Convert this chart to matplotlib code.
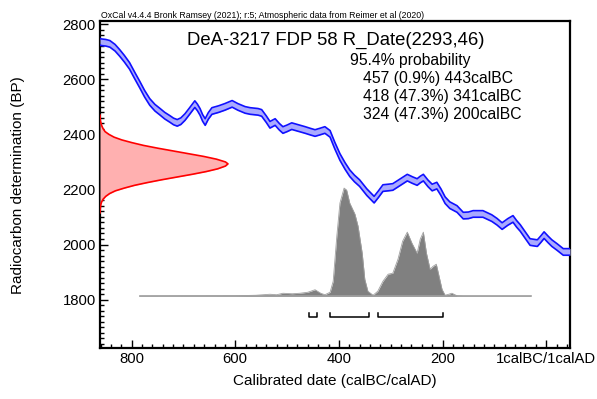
import matplotlib
matplotlib.use("Agg")
import matplotlib.pyplot as plt
from matplotlib.ticker import MultipleLocator, FixedLocator, FixedFormatter

plt.rcParams['font.family'] = ['Liberation Sans', 'DejaVu Sans']

# ---------------- data ----------------
# calibration curve (calBC positive, BP centre)
cal_bc = [861, 859, 850, 842, 832, 823, 814, 804, 794, 784, 775, 765, 755, 745, 736, 726, 719, 712,
          705, 697, 688, 678, 673, 668, 663, 658, 652, 645, 632, 620, 606, 595, 581, 571, 556, 549,
          540, 533, 523, 515, 508, 500, 491, 478, 465, 455, 446, 437, 427, 417, 408, 398,
          388, 379, 370, 360, 346, 332, 324, 315, 305, 296, 282, 268, 258, 249, 243, 237,
          228, 220, 211, 203, 195, 186, 172, 160, 150, 141, 122, 105, 95, 85, 74, 64, 57, 50,
          40, 31, 17, 10, 4, -4, -11, -21, -33, -46]
cal_bp = [2737, 2735, 2733, 2729, 2715, 2696, 2675, 2649, 2614, 2580, 2548, 2518, 2497, 2482, 2468,
          2456, 2447, 2442, 2448, 2463, 2485, 2510, 2498, 2482, 2460, 2445, 2467, 2485, 2492, 2500,
          2511, 2500, 2489, 2485, 2482, 2478, 2455, 2435, 2445, 2428, 2416, 2422, 2430, 2423, 2416,
          2410, 2405, 2410, 2416, 2402, 2360, 2318, 2285, 2259, 2240, 2223, 2190, 2163, 2182,
          2205, 2207, 2209, 2226, 2243, 2234, 2227, 2236, 2243, 2222, 2207, 2214, 2190, 2161,
          2143, 2129, 2105, 2106, 2111, 2111, 2096, 2083, 2067, 2082, 2093, 2075, 2060, 2033, 2009,
          2005, 2020, 2034, 2018, 2005, 1991, 1973, 1973]
cal_err = 12

# measured radiocarbon date R_Date(2293,46): relative density by BP
r_bp = [2470, 2450, 2440, 2430, 2420, 2410, 2400, 2390, 2380, 2370, 2360, 2350, 2340, 2330,
        2320, 2310, 2300, 2293, 2285, 2275, 2265, 2255, 2245, 2235, 2225, 2215, 2205, 2195,
        2185, 2175, 2165, 2155, 2145, 2130, 2115]
r_dens = [0.0, 0.003, 0.008, 0.015, 0.025, 0.04, 0.07, 0.11, 0.17, 0.25, 0.34, 0.45, 0.57, 0.69,
          0.81, 0.91, 0.98, 1.0, 0.98, 0.92, 0.83, 0.72, 0.6, 0.48, 0.37, 0.27, 0.19, 0.12,
          0.075, 0.045, 0.025, 0.013, 0.006, 0.002, 0.0]

# calibrated posterior (calBC) relative probability
post_bc = [784, 700, 600, 560, 533, 520, 508, 490, 475, 460, 446, 435, 427, 417, 411,
           404, 398, 390, 385, 379, 369, 363, 355, 350, 344, 334, 325, 315, 305, 296,
           286, 277, 268, 259, 249, 243, 237, 231, 224, 218, 212, 208, 201, 195, 188,
           182, 172, 160, 30]
post_p = [0, 0.3, 0.5, 1, 2, 1.5, 3, 2.5, 3, 4, 6.5, 3, 1.5, 4, 15,
          60, 93, 108, 106, 93, 82, 70, 43, 17, 5, 1, 5, 15, 22, 23,
          37, 55, 64, 53, 43, 57, 64, 43, 27, 30, 32, 23, 7, 1, 2,
          3, 0.5, 0, 0]

# 95.4% ranges (calBC)
range_start = [457, 418, 324]
range_end = [443, 341, 200]
range_pct = ['0.9%', '47.3%', '47.3%']

x_ticks = [800, 600, 400, 200, 0]
x_ticklabels = ['800', '600', '400', '200', '1calBC/1calAD']
y_ticks = [1800, 2000, 2200, 2400, 2600, 2800]

# ---------------- figure ----------------
W, H = 597, 399
fig = plt.figure(figsize=(W / 100, H / 100), dpi=100)
ax = fig.add_axes([100 / W, 1 - 348 / H, 470 / W, 327 / H])
ax.set_xlim(861, -46)
ax.set_ylim(1624, 2812)

# calibration curve band
lo = [v - cal_err for v in cal_bp]
hi = [v + cal_err for v in cal_bp]
ax.fill_between(cal_bc, lo, hi, color='#aaaaff', lw=0, zorder=3)
ax.plot(cal_bc, lo, color='#1010ff', lw=1.2, zorder=4)
ax.plot(cal_bc, hi, color='#1010ff', lw=1.2, zorder=4)

# radiocarbon measurement (red)
x0 = 861
r_width = 247
rx = [x0 - d * r_width for d in r_dens]
ax.fill_betweenx(r_bp, x0, rx, color='#ffb0b0', lw=0, zorder=3)
ax.plot(rx, r_bp, color='#ff0000', lw=1.2, zorder=4)

# posterior (grey)
base = 1812
pmax = max(post_p)
scale = 393
py = [base + p / pmax * scale for p in post_p]
ax.fill_between(post_bc, base, py, color='#808080', lw=0, zorder=2)
ax.plot(post_bc, py, color='#a0a0a0', lw=0.6, zorder=2)
ax.plot([post_bc[0], post_bc[-1]], [base, base], color='#a0a0a0', lw=1.2, zorder=2)

# ranges
for s, e in zip(range_start, range_end):
    ax.plot([s, s, e, e], [1752, 1737, 1737, 1752], color='black', lw=1.1, zorder=5)

# axes styling
for sp in ax.spines.values():
    sp.set_linewidth(1.6)
ax.xaxis.set_major_locator(FixedLocator(x_ticks))
ax.xaxis.set_major_formatter(FixedFormatter(x_ticklabels))
ax.xaxis.set_minor_locator(MultipleLocator(20))
ax.yaxis.set_major_locator(FixedLocator(y_ticks))
ax.yaxis.set_minor_locator(MultipleLocator(20))
ax.tick_params(which='both', direction='in', top=False, right=False, labelsize=10.7, width=1.0)
ax.tick_params(which='major', length=6, pad=3)
ax.tick_params(which='minor', length=3)
for lbl in ax.get_xticklabels():
    lbl.set_clip_on(False)

fig.text(18 / W, 1 - 185 / H, 'Radiocarbon determination (BP)', rotation=90,
         ha='center', va='center', fontsize=11)
fig.text(335 / W, 1 - 381 / H, 'Calibrated date (calBC/calAD)', ha='center', va='center', fontsize=11)

fig.text(101 / W, 1 - 16 / H,
         'OxCal v4.4.4 Bronk Ramsey (2021); r:5; Atmospheric data from Reimer et al (2020)',
         ha='left', va='center', fontsize=6.3)
fig.text(187 / W, 1 - 40 / H, 'DeA-3217 FDP 58 R_Date(2293,46)', ha='left', va='center', fontsize=13.3)
fig.text(350 / W, 1 - 60 / H, '95.4% probability', ha='left', va='center', fontsize=11.3)
for i, (s, e, p) in enumerate(zip(range_start, range_end, range_pct)):
    fig.text(363 / W, 1 - (79 + 18 * i) / H, f'{s} ({p}) {e}calBC', ha='left', va='center', fontsize=11.3)

fig.savefig('out.png', dpi=100)
